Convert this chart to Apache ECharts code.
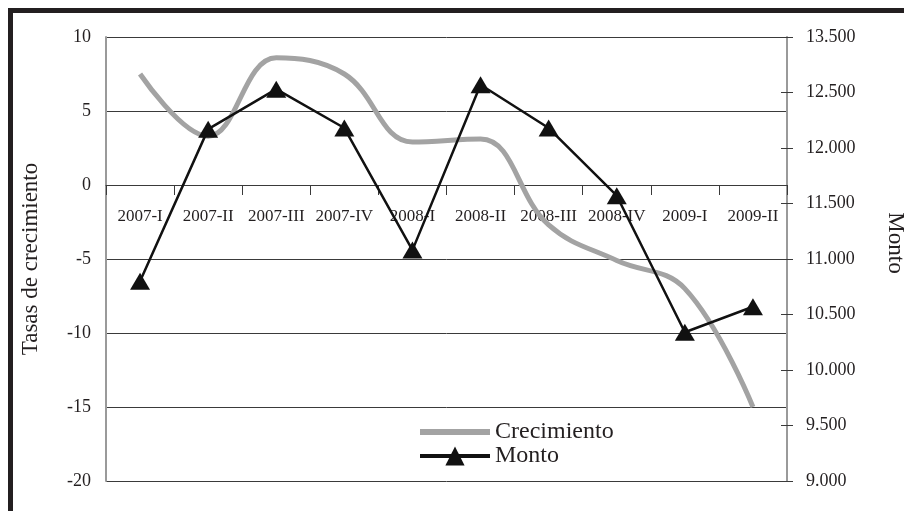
<!DOCTYPE html>
<html>
<head>
<meta charset="utf-8">
<script src="https://cdn.jsdelivr.net/npm/echarts@6/dist/echarts.min.js"></script>
<style>
html,body{margin:0;padding:0;background:#fff;}
#chart{width:904px;height:511px;}
</style>
</head>
<body>
<div id="chart"></div>
<script>
var categories = ["2007-I","2007-II","2007-III","2007-IV","2008-I","2008-II","2008-III","2008-IV","2009-I","2009-II"];
var crecimiento = [7.5, 3.3, 8.6, 7.5, 2.9, 3.1, -2.7, -5.1, -7.0, -15.0];
var monto = [10800, 12170, 12530, 12180, 11080, 12570, 12180, 11570, 10340, 10570];
var rightTickLabels = ["9.000","9.500","10.000","10.500","11.000","11.500","12.000","12.500","13.500"];
var leftTitle = "Tasas de crecimiento";
var rightTitle = "Monto";

var serif = "'Liberation Serif', 'DejaVu Serif', serif";
var textColor = "#231f20";

var gridTop = 37, gridBottom = 30, chartH = 511;
var plotH = chartH - gridTop - gridBottom;
var zeroFromBottom = plotH * 20 / 30;

var chart = echarts.init(document.getElementById('chart'), null, {renderer: 'canvas'});
chart.setOption({
  animation: false,
  backgroundColor: '#ffffff',
  graphic: [{
    type: 'rect',
    shape: {x: 10.5, y: 10.5, width: 1000, height: 600},
    style: {fill: 'none', stroke: '#231f20', lineWidth: 5},
    silent: true
  }],
  grid: {left: 106, right: 117, top: gridTop, bottom: gridBottom, containLabel: false, outerBoundsMode: 'none'},
  legend: {
    orient: 'vertical',
    left: 412,
    top: 415,
    itemWidth: 70,
    itemHeight: 24,
    itemGap: 0,
    textStyle: {fontFamily: serif, fontSize: 24, color: textColor},
    data: [
      {name: 'Crecimiento', lineStyle: {color: '#a3a3a3', width: 6}, itemStyle: {opacity: 0}},
      {name: 'Monto', lineStyle: {color: '#111111', width: 4}}
    ]
  },
  xAxis: {
    type: 'category',
    data: categories,
    boundaryGap: true,
    position: 'bottom',
    offset: -zeroFromBottom,
    axisLine: {show: true, onZero: false, lineStyle: {color: '#3a3a3a', width: 1}},
    axisTick: {show: true, inside: false, length: 10, lineStyle: {color: '#3a3a3a', width: 1}},
    axisLabel: {margin: 23, fontFamily: serif, fontSize: 17, color: textColor, interval: 0},
    splitLine: {show: false}
  },
  yAxis: [
    {
      type: 'value',
      position: 'left',
      min: -20, max: 10, interval: 5,
      name: leftTitle,
      nameLocation: 'middle',
      nameGap: 64,
      nameTextStyle: {fontFamily: serif, fontSize: 23, color: textColor},
      axisLine: {show: true, lineStyle: {color: '#9a9a9a', width: 2}},
      axisTick: {show: false},
      axisLabel: {margin: 15, fontFamily: serif, fontSize: 18, color: textColor},
      splitLine: {show: true, lineStyle: {color: '#3a3a3a', width: 1}}
    },
    {
      type: 'value',
      position: 'right',
      min: 9000, max: 13000, interval: 500,
      name: rightTitle,
      nameLocation: 'middle',
      nameGap: 97,
      nameRotate: -90,
      nameTextStyle: {fontFamily: serif, fontSize: 23, color: textColor, padding: [0, 32, 0, 0]},
      axisLine: {show: true, lineStyle: {color: '#9a9a9a', width: 2}},
      axisTick: {show: true, inside: false, length: 6, lineStyle: {color: '#3a3a3a', width: 1}},
      axisLabel: {
        margin: 19, fontFamily: serif, fontSize: 18, color: textColor,
        formatter: function (v) { var i = Math.round((v - 9000) / 500); return rightTickLabels[i] || ''; }
      },
      splitLine: {show: false}
    },
    {
      type: 'value',
      position: 'right',
      min: 9000, max: 13000, interval: 500,
      axisLine: {show: false},
      axisTick: {show: true, inside: true, length: 6, lineStyle: {color: '#3a3a3a', width: 1}},
      axisLabel: {show: false},
      splitLine: {show: false}
    }
  ],
  series: [
    {
      name: 'Crecimiento',
      type: 'line',
      yAxisIndex: 0,
      data: crecimiento,
      smooth: 0.4,
      symbol: 'none',
      lineStyle: {color: '#a3a3a3', width: 5},
      itemStyle: {color: '#a3a3a3'},
      z: 2
    },
    {
      name: 'Monto',
      type: 'line',
      yAxisIndex: 1,
      data: monto,
      symbol: 'triangle',
      symbolSize: [20, 17],
      lineStyle: {color: '#111111', width: 2.5},
      itemStyle: {color: '#111111'},
      z: 3
    }
  ]
});
</script>
</body>
</html>
